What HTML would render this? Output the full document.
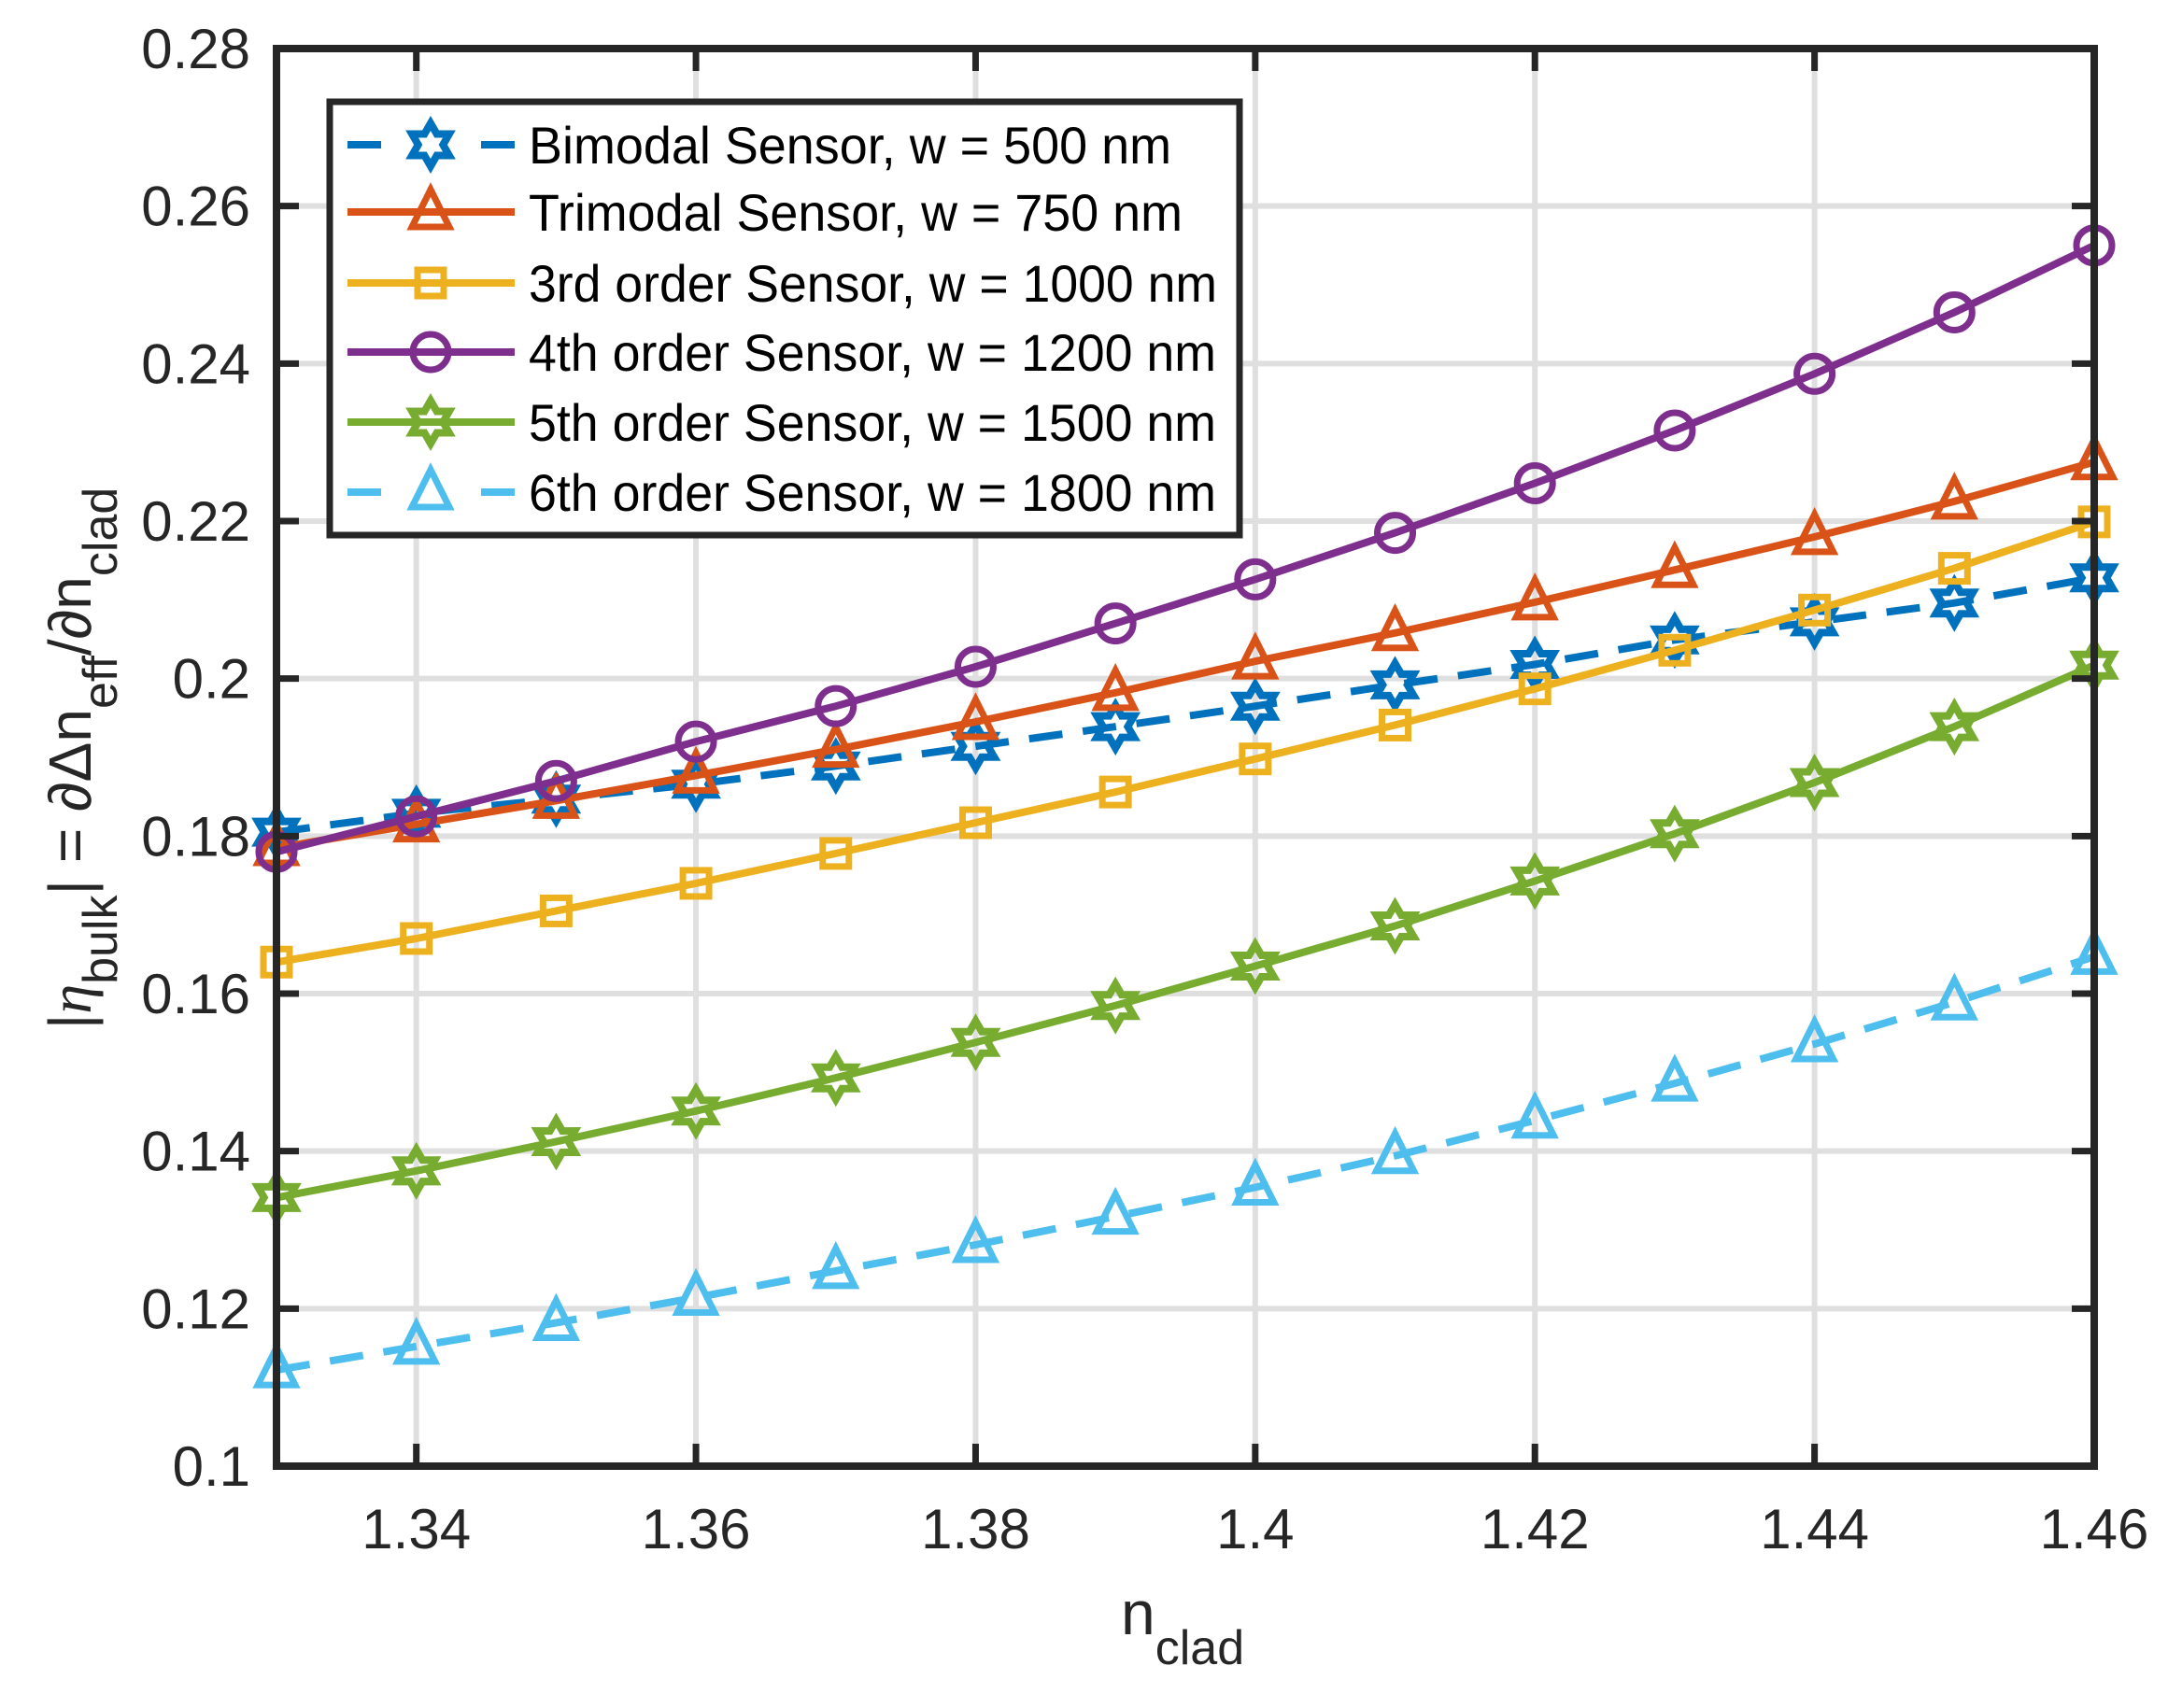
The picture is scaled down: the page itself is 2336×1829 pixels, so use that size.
<!DOCTYPE html>
<html><head><meta charset="utf-8"><style>
html,body{margin:0;padding:0;background:#fff;}
svg text{font-family:"Liberation Sans",Arial,sans-serif;fill:#262626;}
</style></head><body>
<svg id="s" width="2336" height="1824" xmlns="http://www.w3.org/2000/svg">
<rect width="2336" height="1824" fill="#fff"/>
<g id="grid"></g>
<g id="series"></g>
<g id="frame"></g>
<g id="labels"></g>
<g id="legend"></g>
</svg>
<script>
const NS="http://www.w3.org/2000/svg";
const L=296,R=2242,T=52,B=1570;
const X=x=>L+(x-1.33)/0.13*(R-L);
const Y=y=>B-(y-0.1)/0.18*(B-T);
function el(p,tag,a,txt){const e=document.createElementNS(NS,tag);for(const k in a)e.setAttribute(k,a[k]);if(txt!==undefined)e.textContent=txt;document.getElementById(p).appendChild(e);return e;}
const xt=[1.34,1.36,1.38,1.40,1.42,1.44,1.46], xl=["1.34","1.36","1.38","1.4","1.42","1.44","1.46"];
const yt=[],ylab=["0.1","0.12","0.14","0.16","0.18","0.2","0.22","0.24","0.26","0.28"];
for(let i=0;i<10;i++)yt.push(0.1+0.02*i);
xt.forEach(x=>el("grid","line",{x1:X(x),x2:X(x),y1:T,y2:B,stroke:"#dfdfdf","stroke-width":6}));
yt.forEach(y=>el("grid","line",{x1:L,x2:R,y1:Y(y),y2:Y(y),stroke:"#dfdfdf","stroke-width":6}));
xt.forEach(x=>{el("frame","line",{x1:X(x),x2:X(x),y1:B,y2:B-24,stroke:"#262626","stroke-width":7});el("frame","line",{x1:X(x),x2:X(x),y1:T,y2:T+24,stroke:"#262626","stroke-width":7});});
yt.forEach(y=>{el("frame","line",{x1:L,x2:L+24,y1:Y(y),y2:Y(y),stroke:"#262626","stroke-width":7});el("frame","line",{x1:R,x2:R-24,y1:Y(y),y2:Y(y),stroke:"#262626","stroke-width":7});});
el("frame","rect",{x:L,y:T,width:R-L,height:B-T,fill:"none",stroke:"#262626","stroke-width":8});
xt.forEach((x,i)=>el("labels","text",{x:X(x),y:1658,"font-size":60,"text-anchor":"middle"},xl[i]));
yt.forEach((y,i)=>el("labels","text",{x:268,y:Y(y)+21,"font-size":60,"text-anchor":"end"},ylab[i]));
let t=el("labels","text",{x:1200,y:1750,"font-size":66});
t.innerHTML='n<tspan font-size="52" dy="32">clad</tspan>';
let yl=el("labels","text",{x:0,y:0,"font-size":64,"text-anchor":"middle",transform:"translate(97,812) rotate(-90)"});
yl.innerHTML='|<tspan font-family="Liberation Serif" font-style="italic">η</tspan><tspan font-size="52" dy="28">bulk</tspan><tspan dy="-28">| = ∂Δn</tspan><tspan font-size="52" dy="28">eff</tspan><tspan dy="-28">/∂n</tspan><tspan font-size="52" dy="28">clad</tspan>';
function hex(cx,cy,r){let p=[];for(let k=0;k<12;k++){const a=-Math.PI/2+k*Math.PI/6;const rr=k%2?r*0.577:r;p.push((cx+rr*Math.cos(a)).toFixed(1)+","+(cy+rr*Math.sin(a)).toFixed(1));}return p.join(" ");}
function marker(g,type,cx,cy,c){
 if(type==="h")el(g,"polygon",{points:hex(cx,cy,23),fill:"none",stroke:c,"stroke-width":8,"stroke-linejoin":"miter"});
 else if(type==="t")el(g,"polygon",{points:`${cx},${cy-24} ${cx+20},${cy+16} ${cx-20},${cy+16}`,fill:"none",stroke:c,"stroke-width":7});
 else if(type==="s")el(g,"rect",{x:cx-14,y:cy-14,width:28,height:28,fill:"none",stroke:c,"stroke-width":7});
 else if(type==="o")el(g,"circle",{cx:cx,cy:cy,r:19,fill:"none",stroke:c,"stroke-width":7});
}
const S=[
 {c:"#0072BD",m:"h",d:true,n:"Bimodal Sensor, w = 500 nm",v:[0.1805,0.1829,0.1847,0.1866,0.1889,0.1914,0.1939,0.1965,0.1992,0.2018,0.2049,0.2072,0.2096,0.2128]},
 {c:"#D95319",m:"t",d:false,n:"Trimodal Sensor, w = 750 nm",v:[0.1785,0.1815,0.1845,0.1877,0.191,0.1945,0.1982,0.2022,0.2058,0.2097,0.2138,0.218,0.2225,0.2275]},
 {c:"#EDB120",m:"s",d:false,n:"3rd order Sensor, w = 1000 nm",v:[0.164,0.167,0.1705,0.174,0.1778,0.1817,0.1856,0.1898,0.1941,0.1987,0.2036,0.2087,0.214,0.2199]},
 {c:"#7E2F8E",m:"o",d:false,n:"4th order Sensor, w = 1200 nm",v:[0.178,0.1825,0.187,0.192,0.1965,0.2015,0.207,0.2126,0.2185,0.2248,0.2315,0.2387,0.2465,0.255]},
 {c:"#77AC30",m:"h",d:false,n:"5th order Sensor, w = 1500 nm",v:[0.1341,0.1375,0.1412,0.1451,0.1493,0.1538,0.1585,0.1635,0.1686,0.1743,0.1803,0.1868,0.1939,0.2017]},
 {c:"#4DBEEE",m:"t",d:true,n:"6th order Sensor, w = 1800 nm",v:[0.1122,0.1152,0.1182,0.1214,0.1248,0.1281,0.1317,0.1354,0.1394,0.1439,0.1486,0.1536,0.1589,0.1647]}
];
S.forEach(s=>{
 const pts=s.v.map((v,i)=>[X(1.33+0.01*i),Y(v)]);
 const a={points:pts.map(p=>p[0].toFixed(1)+","+p[1].toFixed(1)).join(" "),fill:"none",stroke:s.c,"stroke-width":8,"stroke-linejoin":"round"};
 if(s.d)a["stroke-dasharray"]="36 22";
 el("series","polyline",a);
 pts.forEach(p=>marker("series",s.m,p[0],p[1],s.c));
});
el("legend","rect",{x:353,y:109,width:974,height:464,fill:"#fff",stroke:"#262626","stroke-width":7});
const rows=[155,227,303,377,452,527];
S.forEach((s,i)=>{
 const y=rows[i];
 if(s.d){el("legend","line",{x1:372,x2:408,y1:y,y2:y,stroke:s.c,"stroke-width":8});el("legend","line",{x1:515,x2:551,y1:y,y2:y,stroke:s.c,"stroke-width":8});}
 else el("legend","line",{x1:372,x2:551,y1:y,y2:y,stroke:s.c,"stroke-width":8});
 marker("legend",s.m,461,y,s.c);
 const w=[688,700,737,736,736,736][i];
 el("legend","text",{x:566,y:y+20,"font-size":56,textLength:w,lengthAdjust:"spacingAndGlyphs",style:"fill:#000"},s.n);
});
</script>
</body></html>
